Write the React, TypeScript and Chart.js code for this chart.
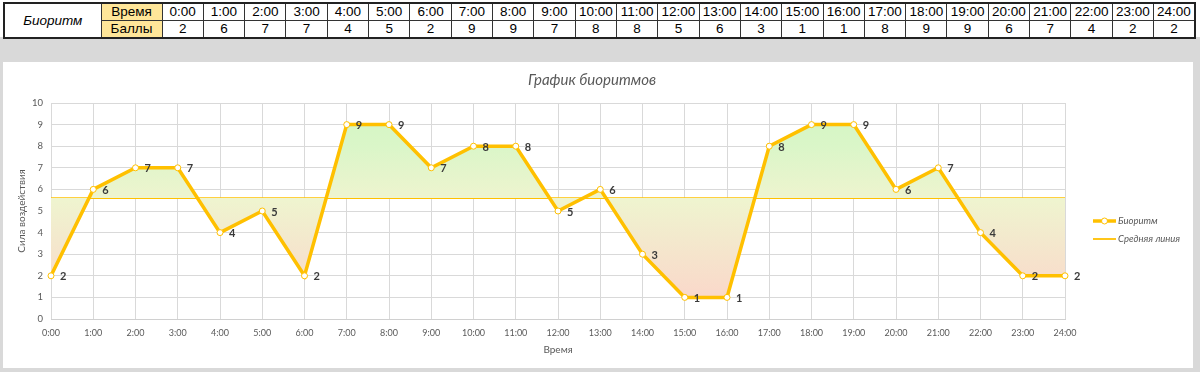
import React, { useEffect, useRef } from 'react';
import { Chart, registerables } from 'chart.js';

Chart.register(...registerables);

const hours = ['0:00', '1:00', '2:00', '3:00', '4:00', '5:00', '6:00', '7:00', '8:00', '9:00', '10:00', '11:00', '12:00', '13:00', '14:00', '15:00', '16:00', '17:00', '18:00', '19:00', '20:00', '21:00', '22:00', '23:00', '24:00'];
const scores = [2, 6, 7, 7, 4, 5, 2, 9, 9, 7, 8, 8, 5, 6, 3, 1, 1, 8, 9, 9, 6, 7, 4, 2, 2];
const averageValue = 5.6;
const averageLine = hours.map(() => averageValue);

const tableTitle = 'Биоритм';
const rowLabels = ['Время', 'Баллы'];
const chartTitle = 'График биоритмов';
const yAxisTitle = 'Сила воздействия';
const xAxisTitle = 'Время';
const legendLabels = ['Биоритм', 'Средняя линия'];

const GOLD = '#FFC000';
const TXT = '#595959';
const FONT = 'Lato, "Open Sans", sans-serif';

const overlayPlugin = {
  id: 'overlay',
  afterDatasetsDraw(chart: any) {
    const ctx = chart.ctx;
    const area = chart.chartArea;
    const meta = chart.getDatasetMeta(0);
    ctx.save();
    // data labels
    ctx.font = `bold 11px ${FONT}`;
    ctx.fillStyle = '#3a3a3a';
    ctx.textAlign = 'left';
    ctx.textBaseline = 'middle';
    meta.data.forEach((pt: any, i: number) => {
      ctx.fillText(String(scores[i]), pt.x + 9, pt.y + 1);
    });
    // title
    ctx.font = `italic 15px ${FONT}`;
    ctx.fillStyle = TXT;
    ctx.textAlign = 'center';
    ctx.fillText(chartTitle, 589, 18);
    // x axis title
    ctx.font = `10px ${FONT}`;
    ctx.fillText(xAxisTitle, (area.left + area.right) / 2, 288);
    // y axis title
    ctx.save();
    ctx.translate(19, (area.top + area.bottom) / 2);
    ctx.rotate(-Math.PI / 2);
    ctx.fillText(yAxisTitle, 0, 0);
    ctx.restore();
    // legend
    const lx = 1090;
    const y1 = 159;
    const y2 = 177;
    ctx.strokeStyle = GOLD;
    ctx.lineWidth = 3.5;
    ctx.beginPath();
    ctx.moveTo(lx, y1);
    ctx.lineTo(lx + 23, y1);
    ctx.stroke();
    ctx.beginPath();
    ctx.arc(lx + 11.5, y1, 3, 0, Math.PI * 2);
    ctx.fillStyle = '#fff';
    ctx.fill();
    ctx.lineWidth = 1;
    ctx.stroke();
    ctx.lineWidth = 1.8;
    ctx.beginPath();
    ctx.moveTo(lx, y2);
    ctx.lineTo(lx + 23, y2);
    ctx.stroke();
    ctx.font = `italic 9.5px ${FONT}`;
    ctx.fillStyle = TXT;
    ctx.textAlign = 'left';
    ctx.fillText(legendLabels[0], lx + 25, y1);
    ctx.fillText(legendLabels[1], lx + 25, y2);
    ctx.restore();
  },
};

function BioChart() {
  const ref = useRef<HTMLCanvasElement>(null);
  useEffect(() => {
    if (!ref.current) return;
    const chart = new Chart(ref.current, {
      type: 'line',
      data: {
        labels: hours,
        datasets: [
          {
            label: legendLabels[0],
            data: scores,
            borderColor: GOLD,
            borderWidth: 3.5,
            pointRadius: 3,
            pointBorderWidth: 1,
            pointBackgroundColor: '#ffffff',
            pointBorderColor: GOLD,
            tension: 0,
            clip: false as any,
            fill: { target: 1 },
            backgroundColor: (c: any) => {
              const area = c.chart.chartArea;
              if (!area) return 'rgba(0,0,0,0)';
              const g = c.chart.ctx.createLinearGradient(0, area.top, 0, area.bottom);
              g.addColorStop(0, '#d2f6c2');
              g.addColorStop(0.2, '#daf6c8');
              g.addColorStop(0.45, '#eff4cf');
              g.addColorStop(0.9, '#fad8ca');
              g.addColorStop(1, '#fad5c6');
              return g;
            },
          },
          {
            label: legendLabels[1],
            data: averageLine,
            borderColor: GOLD,
            borderWidth: 1.8,
            pointRadius: 0,
            fill: false,
          },
        ],
      },
      options: {
        animation: false,
        responsive: false,
        devicePixelRatio: 1,
        layout: { padding: { top: 41, right: 128, left: 0, bottom: 0 } },
        plugins: { legend: { display: false }, tooltip: { enabled: false }, title: { display: false } },
        scales: {
          x: {
            type: 'category',
            offset: false,
            grid: { color: '#d9d9d9', drawTicks: false },
            border: { color: '#d0d0d0' },
            ticks: { color: TXT, font: { family: FONT, size: 9 }, padding: 9, maxRotation: 0, autoSkip: false },
            afterFit: (s: any) => { s.height = 49; },
          },
          y: {
            min: 0,
            max: 10,
            grid: { color: '#d9d9d9', drawTicks: false },
            border: { display: false },
            ticks: { stepSize: 1, color: TXT, font: { family: FONT, size: 9.5 }, padding: 8 },
            afterFit: (s: any) => { s.width = 48; },
          },
        },
      },
      plugins: [overlayPlugin],
    } as any);
    return () => chart.destroy();
  }, []);
  return <canvas ref={ref} width={1190} height={306} style={{ display: 'block', width: 1190, height: 306 }} />;
}

const cellBase: React.CSSProperties = {
  border: '1px solid #333',
  padding: 0,
  textAlign: 'center',
  fontFamily: '"Liberation Sans", Arial, sans-serif',
  fontSize: 13.5,
  color: '#000',
  lineHeight: '16px',
  overflow: 'hidden',
  whiteSpace: 'nowrap',
};

export default function App() {
  useEffect(() => {
    document.body.style.margin = '0';
  }, []);
  const colW = (1194 - 161) / hours.length;
  return (
    <div style={{ position: 'relative', width: 1200, height: 372, background: '#d9d9d9', overflow: 'hidden', margin: 0 }}>
      <div style={{ position: 'absolute', left: 0, top: 0, width: 1200, height: 37, background: '#ffffff' }} />
      <table
        style={{
          position: 'absolute',
          left: 3,
          top: 2,
          borderCollapse: 'collapse',
          tableLayout: 'fixed',
          width: 1192,
          border: '2px solid #222',
          background: '#fff',
        }}
      >
        <colgroup>
          <col style={{ width: 97 }} />
          <col style={{ width: 61 }} />
          {hours.map((h) => (
            <col key={h} style={{ width: colW }} />
          ))}
        </colgroup>
        <tbody>
          <tr style={{ height: 17 }}>
            <td rowSpan={2} style={{ ...cellBase, fontStyle: 'italic' }}>{tableTitle}</td>
            <td style={{ ...cellBase, background: '#ffe699' }}>{rowLabels[0]}</td>
            {hours.map((h) => (
              <td key={h} style={cellBase}>{h}</td>
            ))}
          </tr>
          <tr style={{ height: 17 }}>
            <td style={{ ...cellBase, background: '#ffe699' }}>{rowLabels[1]}</td>
            {scores.map((v, i) => (
              <td key={i} style={cellBase}>{v}</td>
            ))}
          </tr>
        </tbody>
      </table>
      <div style={{ position: 'absolute', left: 3, top: 62, width: 1190, height: 306, background: '#ffffff' }}>
        <BioChart />
      </div>
    </div>
  );
}
